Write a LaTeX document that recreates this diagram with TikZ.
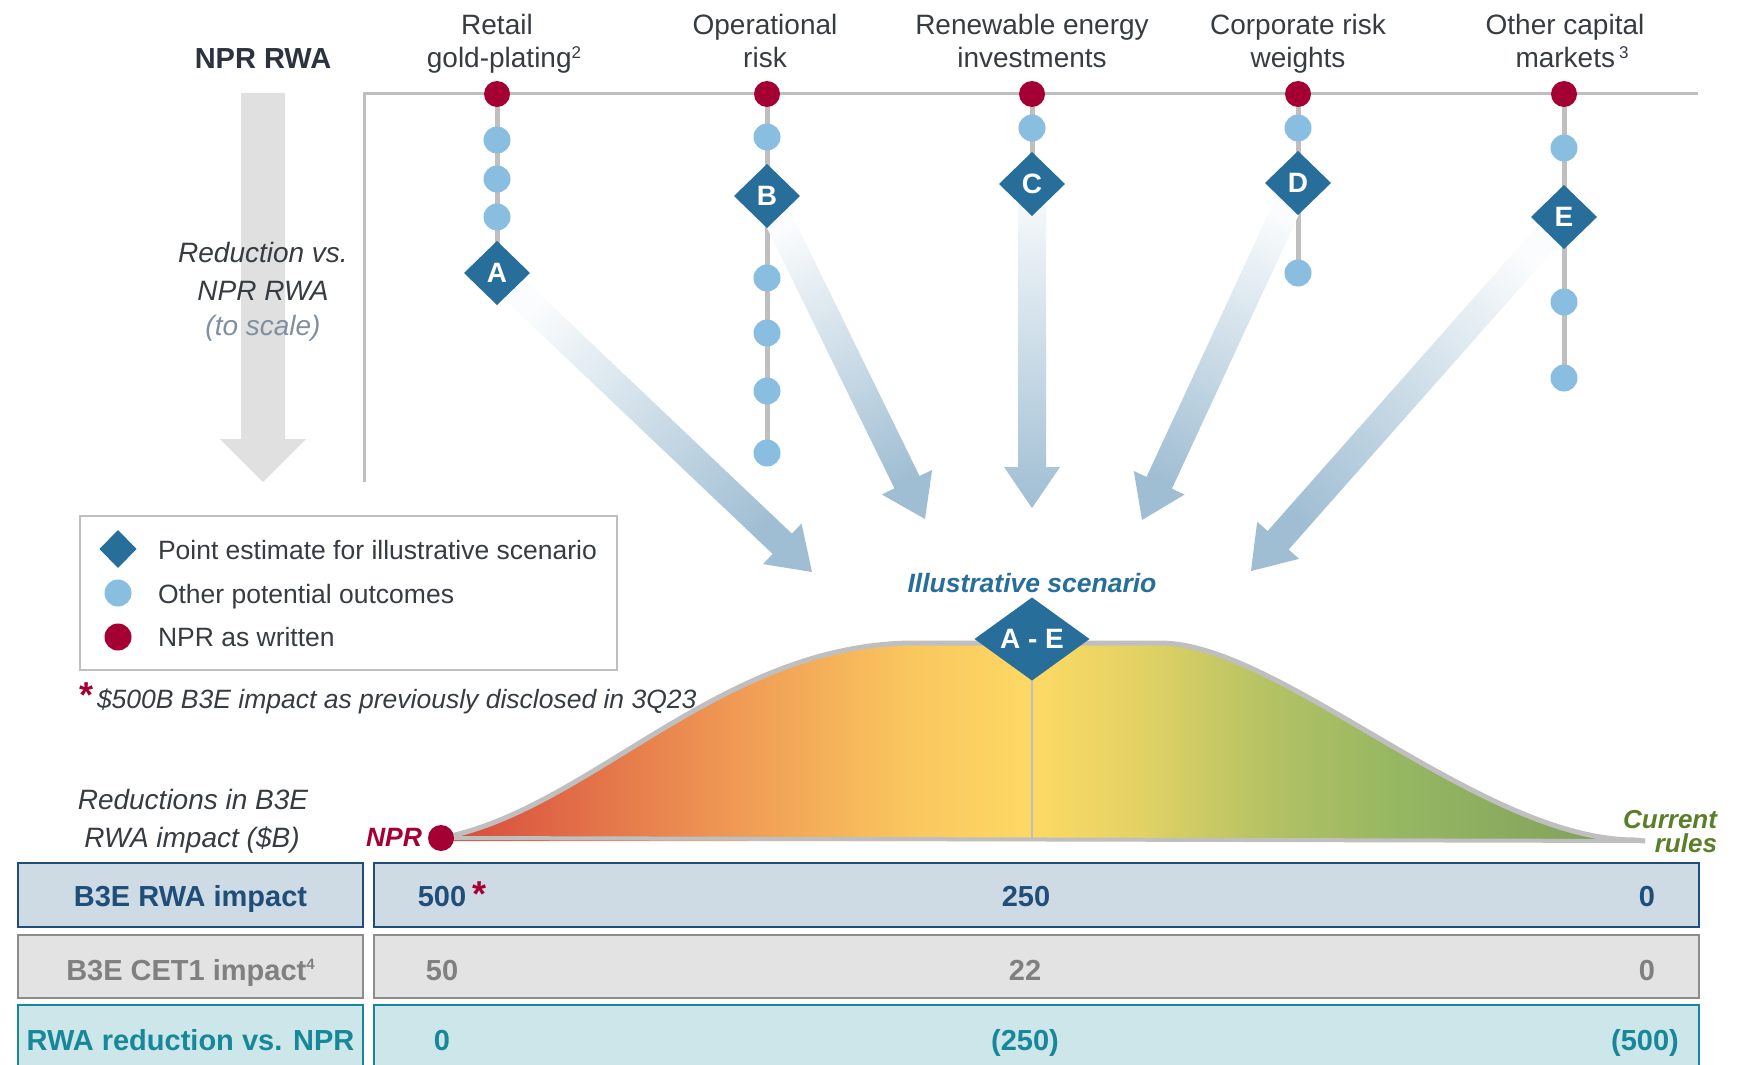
\documentclass[tikz,border=0pt]{standalone}
\usepackage{fontspec}
\setmainfont{Liberation Sans}
\usetikzlibrary{shapes.geometric,calc}

\definecolor{nprred}{RGB}{165,0,52}
\definecolor{dotblue}{RGB}{137,190,224}
\definecolor{diablue}{RGB}{40,110,155}
\definecolor{linegray}{RGB}{191,191,191}
\definecolor{labeltext}{RGB}{55,60,66}
\definecolor{headtext}{RGB}{43,52,62}
\definecolor{bigarrow}{RGB}{224,224,224}
\definecolor{scalegray}{RGB}{128,144,160}
\definecolor{curgreen}{RGB}{90,127,40}
\definecolor{arrowfade}{RGB}{250,252,253}
\definecolor{arrowblue}{RGB}{160,190,211}
\definecolor{rowAfill}{RGB}{206,218,228}
\definecolor{rowAline}{RGB}{31,78,121}
\definecolor{rowBfill}{RGB}{227,227,227}
\definecolor{rowBline}{RGB}{140,140,140}
\definecolor{rowBtext}{RGB}{128,128,128}
\definecolor{rowCfill}{RGB}{205,230,234}
\definecolor{rowCline}{RGB}{23,135,154}
\definecolor{bellA}{RGB}{214,72,60}
\definecolor{bellB}{RGB}{226,112,72}
\definecolor{bellC}{RGB}{240,155,85}
\definecolor{bellD}{RGB}{250,200,95}
\definecolor{bellE}{RGB}{253,217,100}
\definecolor{bellF}{RGB}{228,211,100}
\definecolor{bellG}{RGB}{178,193,100}
\definecolor{bellH}{RGB}{150,183,98}
\definecolor{bellI}{RGB}{125,158,90}

\pgfdeclarehorizontalshading{bellshade}{100bp}{color(0bp)=(bellA); color(25bp)=(bellA); color(31bp)=(bellB); color(37.5bp)=(bellC); color(45bp)=(bellD); color(49.75bp)=(bellE); color(54bp)=(bellF); color(60bp)=(bellG); color(65bp)=(bellH); color(75bp)=(bellI); color(100bp)=(bellI)}

\pgfdeclarelayer{bg}
\pgfsetlayers{bg,main}

\newcommand\myfs[1]{\fontsize{#1}{#1}\selectfont}
% #1 start node, #2 tip coordinate, #3 shading angle
\newcommand\fatarrow[3]{%
  \coordinate (#1-hb) at ($(#2)!41pt!(#1)$);
  \shade[bottom color=arrowfade, top color=arrowblue, shading angle=#3]
    ($(#1)!14pt!90:(#2)$) -- ($(#1-hb)!14pt!90:(#2)$) -- ($(#1-hb)!28pt!90:(#2)$) -- (#2)
    -- ($(#1-hb)!28pt!-90:(#2)$) -- ($(#1-hb)!14pt!-90:(#2)$) -- ($(#1)!14pt!-90:(#2)$) -- cycle;}

\begin{document}
\begin{tikzpicture}[x=1pt,y=-1pt,
  every node/.style={inner sep=0pt, outer sep=0pt},
  toplabel/.style={anchor=base, text=labeltext, font=\myfs{28}},
  sidelabel/.style={anchor=base, text=labeltext, font=\itshape\myfs{28}},
  legtext/.style={anchor=base west, text=labeltext, font=\myfs{26.5}},
  reddot/.style={circle, fill=nprred, minimum size=26pt},
  bluedot/.style={circle, fill=dotblue, minimum size=27pt},
  pointdia/.style={diamond, fill=diablue, minimum width=66pt, minimum height=64pt, text=white, font=\bfseries\myfs{28}},
  colline/.style={draw=linegray, line width=5pt},
  frameline/.style={draw=linegray, line width=3pt},
  rowA/.style={fill=rowAfill, draw=rowAline, line width=2.5pt},
  rowB/.style={fill=rowBfill, draw=rowBline, line width=2.5pt},
  rowC/.style={fill=rowCfill, draw=rowCline, line width=2.5pt},
  rowAtext/.style={anchor=base, text=rowAline, font=\bfseries\myfs{29}},
  rowBtext/.style={anchor=base, text=rowBtext, font=\bfseries\myfs{29}},
  rowCtext/.style={anchor=base, text=rowCline, font=\bfseries\myfs{29}},
  star/.style={anchor=base, text=nprred, font=\bfseries\myfs{36}}]

\useasboundingbox (0,0) rectangle (1749,1065);

% ---- left scale arrow and labels
\fill[bigarrow] (241,93) -- (285,93) -- (285,439) -- (306,439) -- (263,482) -- (220,439) -- (241,439) -- cycle;
\node[anchor=base, text=headtext, font=\bfseries\myfs{29}] (nprrwa) at (263,69) {NPR RWA};
\node[sidelabel] (red1) at (263,262) {Reduction vs.};
\node[sidelabel] (red2) at (263,300) {NPR RWA};
\node[sidelabel, text=scalegray] (red3) at (263,335) {(to scale)};

% ---- frame
\coordinate (fbl) at (364,482);
\coordinate (ftl) at (364,94);
\coordinate (ftr) at (1698,94);
\draw[frameline] (fbl) -- (ftl) -- (ftr);

% ---- column labels
\node[toplabel] (l1a) at (497,35) {Retail};
\node[toplabel] (l1b) at (504,68) {gold-plating\raisebox{9.5pt}{\myfs{17}2}};
\node[toplabel] (l2a) at (765,35) {Operational};
\node[toplabel] (l2b) at (765,68) {risk};
\node[toplabel] (l3a) at (1032,35) {Renewable energy};
\node[toplabel] (l3b) at (1032,68) {investments};
\node[toplabel] (l4a) at (1298,35) {Corporate risk};
\node[toplabel] (l4b) at (1298,68) {weights};
\node[toplabel] (l5a) at (1565,35) {Other capital};
\node[toplabel] (l5b) at (1572,68) {markets\hspace{4pt}\raisebox{9.5pt}{\myfs{17}3}};

% ---- column 1: Retail
\node[reddot] (r1) at (497,94) {};
\node[bluedot] (b1a) at (497,140) {};
\node[bluedot] (b1b) at (497,179) {};
\node[bluedot] (b1c) at (497,217) {};
\node[pointdia] (dA) at (497,273) {A};
% ---- column 2: Operational
\node[reddot] (r2) at (767,94) {};
\node[bluedot] (b2a) at (767,137) {};
\node[pointdia] (dB) at (767,196) {B};
\node[bluedot] (b2b) at (767,278) {};
\node[bluedot] (b2c) at (767,333) {};
\node[bluedot] (b2d) at (767,391) {};
\node[bluedot] (b2e) at (767,453) {};
% ---- column 3: Renewable
\node[reddot] (r3) at (1032,94) {};
\node[bluedot] (b3a) at (1032,128) {};
\node[pointdia] (dC) at (1032,184) {C};
% ---- column 4: Corporate
\node[reddot] (r4) at (1298,94) {};
\node[bluedot] (b4a) at (1298,128) {};
\node[pointdia] (dD) at (1298,183) {D};
\node[bluedot] (b4b) at (1298,273) {};
% ---- column 5: Other capital markets
\node[reddot] (r5) at (1564,94) {};
\node[bluedot] (b5a) at (1564,148) {};
\node[pointdia] (dE) at (1564,217) {E};
\node[bluedot] (b5b) at (1564,302) {};
\node[bluedot] (b5c) at (1564,378) {};

\begin{pgfonlayer}{bg}
  \fill[white] (0,0) rectangle (1749,1065);
  \draw[colline] (r1.center) -- (dA.center);
  \draw[colline] (r2.center) -- (b2e.center);
  \draw[colline] (r3.center) -- (dC.center);
  \draw[colline] (r4.center) -- (b4b.center);
  \draw[colline] (r5.center) -- (b5c.center);
  \coordinate (tipA) at (812,572);
  \coordinate (tipB) at (925,519);
  \coordinate (tipC) at (1032,508);
  \coordinate (tipD) at (1142,520);
  \coordinate (tipE) at (1251,571);
  \fatarrow{dA}{tipA}{-133.5}
  \fatarrow{dB}{tipB}{-153.9}
  \fatarrow{dC}{tipC}{180}
  \fatarrow{dD}{tipD}{-204.8}
  \fatarrow{dE}{tipE}{-221.5}
\end{pgfonlayer}

% ---- legend
\draw[draw=linegray, line width=2pt] (80,516) rectangle (617,670);
\node[diamond, fill=diablue, minimum width=37pt, minimum height=38pt] (lgdia) at (118,549) {};
\node[bluedot] (lgblue) at (118,593) {};
\node[reddot, minimum size=27pt] (lgred) at (118,637) {};
\node[legtext] (lgt1) at (158,559) {Point estimate for illustrative scenario};
\node[legtext] (lgt2) at (158,603) {Other potential outcomes};
\node[legtext] (lgt3) at (158,646.5) {NPR as written};

% ---- footnote
\node[star] (fnstar) at (87,707) {*};
\node[anchor=base west, text=labeltext, font=\itshape\myfs{26.5}] (fn) at (97,708) {\$500B B3E impact as previously disclosed in 3Q23};

% ---- bell curve
\shade[shading=bellshade] (441,838) .. controls (590,810) and (720,643) .. (915,643) -- (1160,643) .. controls (1280,643) and (1480,840) .. (1635,840) -- (1635,841) -- (441,841) -- cycle;
\coordinate (vtop) at (1032,660);
\coordinate (vbase) at (1032,840);
\draw[linegray, line width=2pt] (vtop) -- (vbase);
\draw[linegray, line width=5pt] (441,838) .. controls (590,810) and (720,643) .. (915,643) -- (1160,643) .. controls (1280,643) and (1480,840) .. (1635,840) -- (1645,841);
\coordinate (baseR) at (1645,841);
\node[reddot] (nprdot) at (441,838) {};
\draw[linegray, line width=4pt] (nprdot.east) -- (baseR);
\node[diamond, fill=diablue, minimum width=115pt, minimum height=78pt, text=white, font=\bfseries\myfs{28}] (ae) at (1032,639) {A - E};

\node[anchor=base, text=diablue, font=\bfseries\itshape\myfs{26.5}] (ill) at (1032,592) {Illustrative scenario};
\node[anchor=base east, text=nprred, font=\bfseries\itshape\myfs{26.5}] (nprlab) at (422,846) {NPR};
\node[anchor=base east, text=curgreen, font=\bfseries\itshape\myfs{26}] (cur1) at (1717,828) {Current};
\node[anchor=base east, text=curgreen, font=\bfseries\itshape\myfs{26}] (cur2) at (1717,852) {rules};
\node[sidelabel] (rd1) at (193,809) {Reductions in B3E};
\node[sidelabel] (rd2) at (192,847) {RWA impact (\$B)};

% ---- table
\draw[rowA] (18,863) rectangle (363,927);
\draw[rowA] (374,863) rectangle (1699,927);
\draw[rowB] (18,935) rectangle (363,998);
\draw[rowB] (374,935) rectangle (1699,998);
\draw[rowC] (18,1005) rectangle (363,1080);
\draw[rowC] (374,1005) rectangle (1699,1080);

\node[rowAtext] (t1) at (190.5,906) {B3E RWA impact};
\node[rowBtext] (t2) at (190.5,980) {B3E CET1 impact\raisebox{11pt}{\myfs{15}4}};
\node[rowCtext] (t3) at (190.5,1050) {RWA reduction vs. NPR};

\node[rowAtext] (v11) at (442,906) {500};
\node[star] (v11s) at (479,906) {*};
\node[rowAtext] (v12) at (1026,906) {250};
\node[rowAtext] (v13) at (1647,906) {0};
\node[rowBtext] (v21) at (442,980) {50};
\node[rowBtext] (v22) at (1025,980) {22};
\node[rowBtext] (v23) at (1647,980) {0};
\node[rowCtext] (v31) at (442,1050) {0};
\node[rowCtext] (v32) at (1025,1050) {(250)};
\node[rowCtext] (v33) at (1645,1050) {(500)};
\end{tikzpicture}
\end{document}
